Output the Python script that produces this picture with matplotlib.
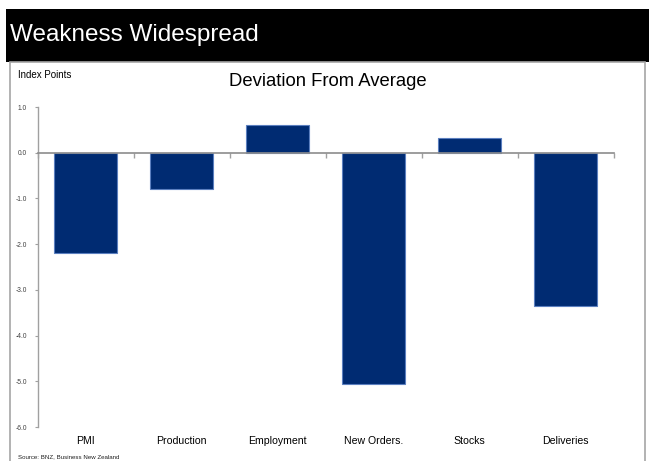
import matplotlib
matplotlib.use("Agg")
import matplotlib.pyplot as plt
from matplotlib.patches import Rectangle
from matplotlib.ticker import FormatStrFormatter
import numpy as np

categories = ["PMI", "Production", "Employment", "New Orders.", "Stocks", "Deliveries"]
values = [-2.2, -0.8, 0.6, -5.05, 0.32, -3.35]
yticks = [1.0, 0.0, -1.0, -2.0, -3.0, -4.0, -5.0, -6.0]

plt.rcParams['font.family'] = ['Liberation Sans', 'DejaVu Sans']

W, H = 649, 461
fig = plt.figure(figsize=(W / 100, H / 100), dpi=100)
fig.patch.set_facecolor('white')

# banner
fig.patches.append(Rectangle((6 / W, 1 - 62 / H), 1 - 6 / W, 53 / H, transform=fig.transFigure,
                             facecolor='black', edgecolor='none', zorder=0))
fig.text(10 / W, 1 - 34.5 / H, "Weakness Widespread", color='white', fontsize=17.5,
         va='center', ha='left')
# border box
fig.patches.append(Rectangle((9.5 / W, -0.01), (645 - 9.5) / W, 1 - 62 / H + 0.01,
                             transform=fig.transFigure, facecolor='none',
                             edgecolor='#a6a6a6', linewidth=1.2, zorder=0))

left, right, top, bottom = 37.5, 613.5, 107, 427
ax = fig.add_axes([left / W, 1 - bottom / H, (right - left) / W, (bottom - top) / H])
x = np.arange(len(categories))
ax.bar(x, values, width=0.66, color='#002b72', edgecolor='#5b7fbf', linewidth=0.8, zorder=2)
ax.set_xlim(-0.5, len(categories) - 0.5)
ax.set_ylim(-6.0, 1.0)
ax.set_yticks(yticks)
ax.yaxis.set_major_formatter(FormatStrFormatter('%.1f'))

for s in ['right', 'bottom']:
    ax.spines[s].set_visible(False)
ax.spines['left'].set_color('#a0a0a0')
ax.spines['left'].set_linewidth(1.0)
ax.spines['top'].set_position(('data', 0))
ax.spines['top'].set_color('#8c8c8c')
ax.spines['top'].set_linewidth(1.2)
ax.spines['top'].set_zorder(3)

ax.set_xticks(x)
ax.set_xticklabels(categories)
ax.set_xticks(np.arange(-0.5, len(categories)), minor=True)
ax.tick_params(axis='x', which='major', length=0, bottom=False, top=False, pad=6.5,
               labelsize=7.6, labelcolor='black')
ax.tick_params(axis='x', which='minor', top=True, bottom=False, direction='in',
               length=3.5, color='#a0a0a0', width=1.0)
ax.tick_params(axis='y', which='major', direction='out', length=2.5, color='#a0a0a0',
               labelsize=4.8, labelcolor='#404040', pad=5)

fig.text(328 / W, 1 - 81 / H, "Deviation From Average", fontsize=13.3, ha='center', va='center')
fig.text(18 / W, 1 - 75.5 / H, "Index Points", fontsize=7, ha='left', va='center')
fig.text(18 / W, 1 - 457 / H, "Source: BNZ, Business New Zealand", fontsize=4.4,
         ha='left', va='center', color='#202020')

fig.savefig("out.png", dpi=100, facecolor='white')
